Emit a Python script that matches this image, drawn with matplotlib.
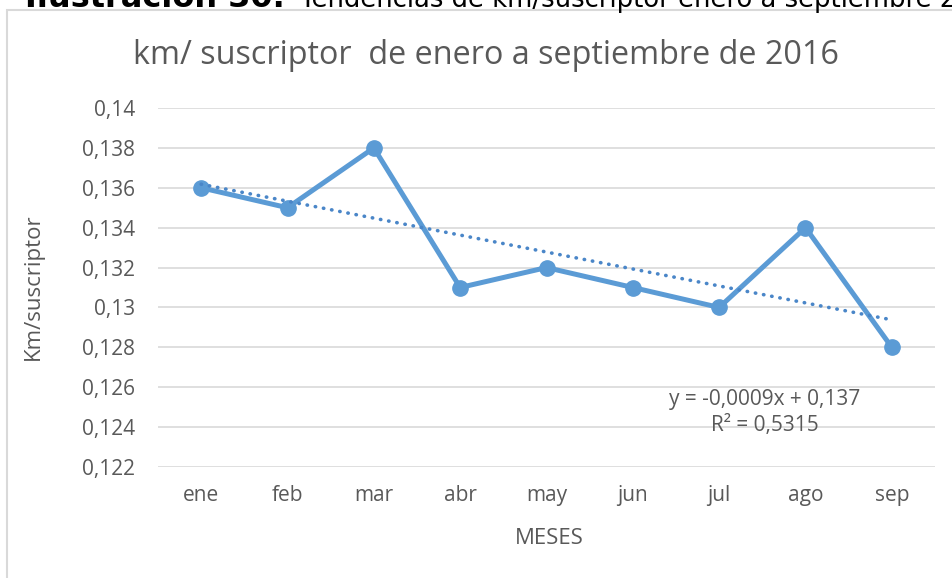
#!/usr/bin/env python3
import numpy as np
import matplotlib
matplotlib.use("Agg")
import matplotlib.pyplot as plt
from matplotlib.patches import Rectangle

months = ["ene", "feb", "mar", "abr", "may", "jun", "jul", "ago", "sep"]
km_per_sub = [0.136, 0.135, 0.138, 0.131, 0.132, 0.131, 0.130, 0.134, 0.128]
y_ticks = [0.122, 0.124, 0.126, 0.128, 0.13, 0.132, 0.134, 0.136, 0.138, 0.14]
y_tick_labels = ["0,122", "0,124", "0,126", "0,128", "0,13", "0,132", "0,134",
                 "0,136", "0,138", "0,14"]

title = "km/ suscriptor  de enero a septiembre de 2016"
caption_bold = "Ilustración 30."
caption_rest = "Tendencias de km/suscriptor enero a septiembre 2016"
trend_label = "y = -0,0009x + 0,137\nR² = 0,5315"

BLUE = "#5B9BD5"
GREY = "#595959"
GRID = "#D9D9D9"

plt.rcParams["font.family"] = ["Open Sans", "DejaVu Sans"]

W, H = 952, 578
fig = plt.figure(figsize=(W / 100, H / 100), dpi=100)

# chart frame (partly cropped in the source)
fig.patches.append(Rectangle((7 / W, -0.1), 1.2, 1 - 10 / H + 0.1,
                             transform=fig.transFigure, fill=False,
                             edgecolor="#D9D9D9", linewidth=1.5))

# caption, cut off at the top as in the source
fig.text(285 / W, 1 - 7 / H, caption_bold, fontsize=23, fontweight="bold",
         va="baseline", ha="right", color="black", family="DejaVu Sans")
fig.text(300 / W, 1 - 7 / H, caption_rest, fontsize=18.6, va="baseline",
         ha="left", color="black", family="DejaVu Sans")

ax = fig.add_axes([158 / W, 1 - 467 / H, (935 - 158) / W, (467 - 108) / H])
x = np.arange(len(months))

ax.plot(x, km_per_sub, color=BLUE, linewidth=3.6, marker="o", markersize=11,
        zorder=3)

# linear trendline (Excel uses x = 1..n)
xn = x + 1
slope, intercept = np.polyfit(xn, km_per_sub, 1)
ax.plot(x, slope * xn + intercept, color="#4A86C8", linewidth=2.6,
        linestyle=(0, (0.1, 2.2)), dash_capstyle="round", zorder=4)

ax.text(6.53, 0.12475, trend_label, ha="center", va="center", fontsize=15,
        color=GREY, linespacing=1.3)

ax.set_xlim(-0.5, len(months) - 0.5)
ax.set_ylim(0.122, 0.14)
ax.set_xticks(x)
ax.set_xticklabels(months)
ax.set_yticks(y_ticks)
ax.set_yticklabels(y_tick_labels)
ax.tick_params(length=0, labelsize=15, labelcolor=GREY)
ax.tick_params(axis="y", pad=16.5)
ax.tick_params(axis="x", pad=13)
ax.grid(axis="y", color=GRID, linewidth=1.2)
ax.set_axisbelow(True)
for s in ax.spines.values():
    s.set_visible(False)

fig.text(33 / W, 1 - 287 / H, "Km/suscriptor", rotation=90, ha="center",
         va="center", fontsize=16, color=GREY)
fig.text(549 / W, 1 - 538 / H, "MESES", ha="center", va="center",
         fontsize=16, color=GREY)
fig.text(486 / W, 1 - 56 / H, title, ha="center", va="center", fontsize=23.3,
         color=GREY)

fig.savefig("out.png", dpi=100)
